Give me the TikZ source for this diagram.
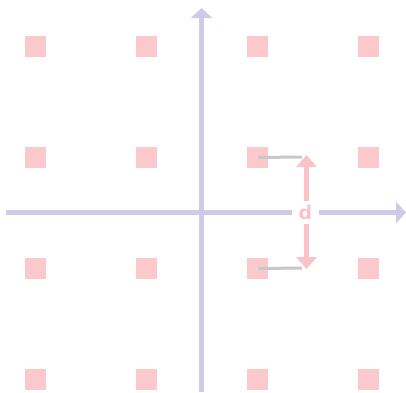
\documentclass[tikz,border=0pt]{standalone}
\usetikzlibrary{arrows.meta}
\usepackage{fontspec}
\setmainfont{DejaVu Sans}
\definecolor{sq}{HTML}{FBC8CB}
\definecolor{ax}{HTML}{CFCBE6}
\definecolor{gr}{HTML}{C8C8C8}
\definecolor{pk}{HTML}{F9C3C7}
\begin{document}
\begin{tikzpicture}[x=1pt,y=-1pt,
  latt/.style={fill=sq,draw=none,minimum size=21pt,inner sep=0pt,outer sep=0pt},
  axis/.style={draw=ax,line width=5pt,-{Triangle[width=21pt,length=10pt]}},
  guide/.style={draw=gr,line width=3pt},
  darr/.style={draw=pk,line width=5pt,-{Triangle[width=20pt,length=12pt]}}]
\useasboundingbox (0,0) rectangle (406,392);
\foreach \i/\x in {1/35.5,2/146.5,3/257.5,4/368.5}{
  \foreach \j/\y in {1/46.5,2/157.5,3/268.5,4/379.5}{
    \node[latt] (p\i\j) at (\x,\y) {};
  }
}
\coordinate (xl) at (6,212.5);
\coordinate (xr) at (406,212.5);
\coordinate (yb) at (201.5,392);
\coordinate (yt) at (201.5,8);
\draw[axis] (xl) -- (xr);
\draw[axis] (yb) -- (yt);
\coordinate (g1) at (302,157);
\coordinate (g2) at (302,268);
\draw[guide] (p32.center) -- (g1);
\draw[guide] (p33.center) -- (g2);
\fill[white,opacity=0.5] (p32.center) circle (1pt) (p33.center) circle (1pt);
\node[fill=white,text=pk,font=\bfseries\fontsize{19}{19}\selectfont,inner sep=0pt,minimum width=27pt,minimum height=22pt] (d) at (305.5,212.5) {d};
\coordinate (dt) at (306.5,155);
\coordinate (db) at (306.5,269);
\draw[darr] (d.north -| dt) -- (dt);
\draw[darr] (d.south -| db) -- (db);
\end{tikzpicture}
\end{document}
